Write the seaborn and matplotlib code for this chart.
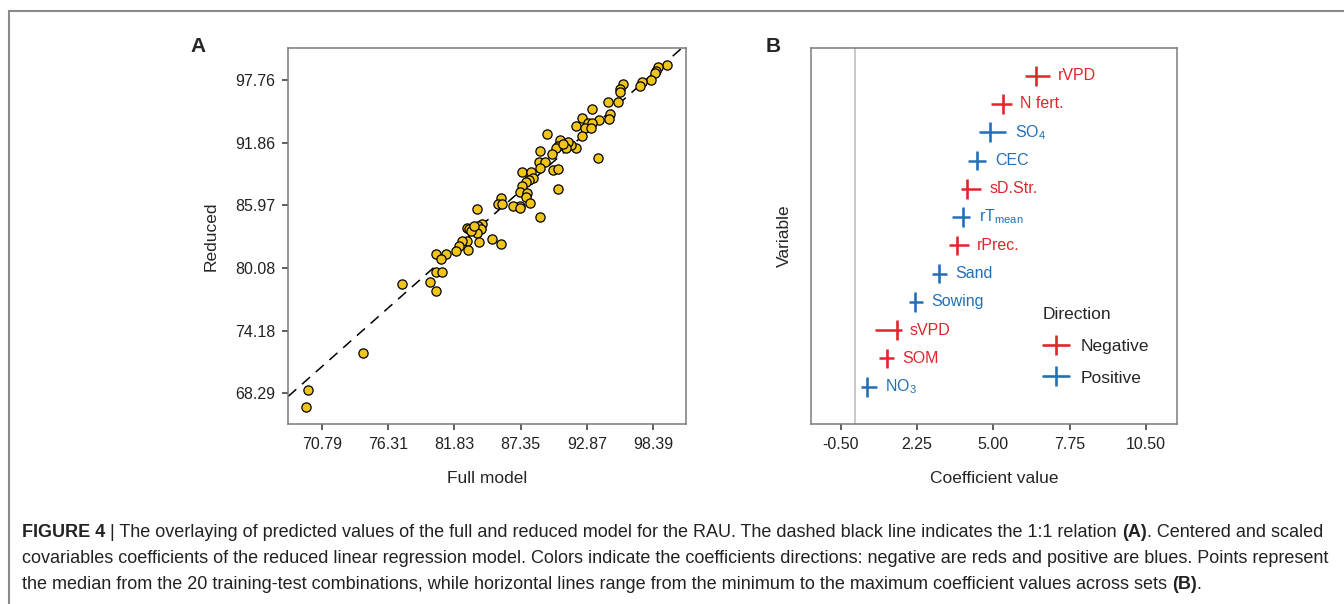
import numpy as np
import pandas as pd
import seaborn as sns
import matplotlib.pyplot as plt
from matplotlib.lines import Line2D

# panel A: predicted values, full vs reduced model
full_model = [99.57, 98.82, 98.63, 98.54, 98.21, 97.46, 97.29, 95.85, 95.63, 95.63,
              95.49, 94.60, 94.79, 94.74, 93.85, 93.30, 92.46, 92.94, 93.32, 91.94,
              92.71, 93.19, 92.49, 93.82, 91.94, 91.52, 91.32, 91.13, 90.63, 90.47,
              90.30, 89.97, 89.58, 88.97, 88.86, 89.41, 88.97, 90.08, 90.44, 90.44,
              88.97, 87.44, 88.22, 88.41, 88.08, 87.78, 87.44, 87.30, 87.86, 87.78,
              88.13, 87.30, 86.74, 87.30, 85.72, 85.44, 85.83, 83.75, 84.11, 83.78,
              82.86, 83.03, 83.36, 84.05, 83.70, 83.20, 85.00, 85.69, 83.91, 82.86,
              82.45, 82.25, 83.00, 81.95, 81.11, 80.31, 80.72, 80.31, 80.78, 79.81,
              80.31, 77.50, 74.23, 69.62, 69.48, 83.50, 90.90]
reduced = [99.17, 99.01, 98.63, 98.39, 97.76, 97.60, 97.23, 97.41, 96.91, 96.66,
           95.72, 95.72, 94.53, 94.07, 94.00, 95.00, 94.16, 93.69, 93.69, 93.44,
           93.22, 93.22, 92.50, 90.46, 91.34, 91.65, 91.96, 91.34, 92.12, 91.56,
           91.40, 90.80, 92.68, 91.12, 90.01, 90.01, 89.46, 89.30, 89.40, 87.49,
           84.88, 89.09, 89.09, 88.52, 88.36, 88.20, 87.83, 87.20, 87.17, 86.74,
           86.23, 85.92, 85.92, 85.76, 86.70, 86.11, 86.08, 85.67, 84.23, 83.98,
           83.82, 83.73, 83.63, 83.73, 83.41, 83.57, 82.82, 82.32, 82.56, 82.63,
           82.63, 82.19, 81.78, 81.66, 81.38, 81.41, 80.91, 79.69, 79.72, 78.75,
           77.87, 78.59, 72.04, 68.62, 66.99, 84.00, 91.70]
x_ticks_a = [70.79, 76.31, 81.83, 87.35, 92.87, 98.39]
y_ticks_a = [68.29, 74.18, 80.08, 85.97, 91.86, 97.76]

# panel B: coefficients (median, min, max)
variables = ['rVPD', 'N fert.', 'SO$_4$', 'CEC', 'sD.Str.', 'rT$_{mean}$',
             'rPrec.', 'Sand', 'Sowing', 'sVPD', 'SOM', 'NO$_3$']
direction = ['Negative', 'Negative', 'Positive', 'Positive', 'Negative', 'Positive',
             'Negative', 'Positive', 'Positive', 'Negative', 'Negative', 'Positive']
coef_median = [6.53, 5.33, 4.87, 4.41, 4.03, 3.91, 3.67, 3.04, 2.17, 1.53, 1.15, 0.45]
coef_min = [6.13, 4.91, 4.48, 4.09, 3.82, 3.52, 3.40, 2.79, 1.95, 0.73, 0.87, 0.22]
coef_max = [7.03, 5.66, 5.47, 4.75, 4.55, 4.17, 4.11, 3.33, 2.47, 1.69, 1.41, 0.79]
x_ticks_b = [-0.50, 2.25, 5.00, 7.75, 10.50]

colors = {'Negative': '#E0262C', 'Positive': '#2370B6'}
gold = '#F0C419'

sns.set_style('white')
plt.rcParams['font.family'] = ['Liberation Sans', 'DejaVu Sans']
plt.rcParams['mathtext.default'] = 'regular'

fig = plt.figure(figsize=(13.44, 6.04), dpi=100)
ax_a = fig.add_axes([0.2143, 0.2980, 0.2961, 0.6225])
ax_b = fig.add_axes([0.6034, 0.2980, 0.2723, 0.6225])

spine_col = '#7a7a7a'
tick_col = '#333333'

# ---- panel A
df_a = pd.DataFrame({'full': full_model, 'reduced': reduced})
ax_a.plot([60, 110], [60, 110], color='black', lw=1.1, ls=(0, (7, 5)), zorder=1)
sns.scatterplot(data=df_a, x='full', y='reduced', color=gold, edgecolor='black',
                linewidth=0.9, s=44, ax=ax_a, zorder=3)
ax_a.set_xlim(67.98, 101.11)
ax_a.set_ylim(65.4, 100.77)
ax_a.set_xticks(x_ticks_a)
ax_a.set_yticks(y_ticks_a)
ax_a.set_xticklabels([f'{v:.2f}' for v in x_ticks_a])
ax_a.set_yticklabels([f'{v:.2f}' for v in y_ticks_a])
ax_a.set_xlabel('Full model', fontsize=12.5, labelpad=14)
ax_a.set_ylabel('Reduced', fontsize=12.5, labelpad=12)

# ---- panel B
pos = np.arange(len(variables))
df_b = pd.DataFrame({'pos': pos, 'median': coef_median, 'lo': coef_min,
                     'hi': coef_max, 'Direction': direction})
ax_b.axvline(0, color='#bdbdbd', lw=1.2, zorder=0)
ax_b.hlines(df_b['pos'], df_b['lo'], df_b['hi'],
            colors=[colors[d] for d in direction], lw=1.8)
sns.scatterplot(data=df_b, x='median', y='pos', hue='Direction', palette=colors,
                marker='|', s=200, linewidth=1.9, legend=False, ax=ax_b)
for p, hi, lab, d in zip(pos, coef_max, variables, direction):
    ax_b.annotate(lab, xy=(hi, p), xytext=(6, 0), textcoords='offset points',
                  va='center', ha='left', color=colors[d], fontsize=11.5)
ax_b.set_xlim(-1.58, 11.62)
ax_b.set_ylim(12.32, -0.98)
ax_b.set_xticks(x_ticks_b)
ax_b.set_xticklabels([f'{v:.2f}' for v in x_ticks_b])
ax_b.set_yticks([])
ax_b.set_xlabel('Coefficient value', fontsize=12.5, labelpad=14)
ax_b.set_ylabel('Variable', fontsize=12.5, labelpad=14)

handles = [Line2D([0], [0], color=colors[k], lw=1.9, marker='|', markersize=14,
                  markeredgewidth=1.9) for k in ['Negative', 'Positive']]
leg = ax_b.legend(handles, ['Negative', 'Positive'], title='Direction', frameon=False,
                  loc='upper left', bbox_to_anchor=(0.59, 0.352), fontsize=12.5,
                  title_fontsize=12.5, handlelength=1.5, labelspacing=0.95,
                  handletextpad=0.7)
leg._legend_box.align = 'left'

for ax in (ax_a, ax_b):
    for s in ax.spines.values():
        s.set_color(spine_col)
        s.set_linewidth(1.1)
    ax.tick_params(axis='both', length=4, width=1.1, color=tick_col, labelcolor='#222222',
                   labelsize=11.5, pad=5, direction='out', bottom=True, left=True)

fig.text(198 / 1344, 1 - 46 / 604, 'A', fontsize=15, weight='bold', ha='center', va='center')
fig.text(773 / 1344, 1 - 46 / 604, 'B', fontsize=15, weight='bold', ha='center', va='center')

# outer frame (top and left only)
fig.add_artist(Line2D([9 / 1344, 1], [1 - 11 / 604, 1 - 11 / 604], transform=fig.transFigure,
                      color='#8a8a8a', lw=1.5))
fig.add_artist(Line2D([9 / 1344, 9 / 1344], [0, 1 - 11 / 604], transform=fig.transFigure,
                      color='#8a8a8a', lw=1.5))

# caption
cap_font = ['Liberation Sans Narrow', 'Liberation Sans', 'DejaVu Sans']
cap_size = 13
cap_lines = [
    [('FIGURE 4', 'bold'), (' | The overlaying of predicted values of the full and reduced model for the RAU. '
                            'The dashed black line indicates the 1:1 relation ', 'normal'),
     ('(A)', 'bold'), ('. Centered and scaled', 'normal')],
    [('covariables coefficients of the reduced linear regression model. Colors indicate the coefficients '
      'directions: negative are reds and positive are blues. Points represent', 'normal')],
    [('the median from the 20 training-test combinations, while horizontal lines range from the minimum '
      'to the maximum coefficient values across sets ', 'normal'), ('(B)', 'bold'), ('.', 'normal')],
]
cap_y = [1 - 537 / 604, 1 - 563 / 604, 1 - 589 / 604]
for parts, yy in zip(cap_lines, cap_y):
    t = fig.text(22 / 1344, yy, parts[0][0], weight=parts[0][1], family=cap_font,
                 fontsize=cap_size, va='baseline', ha='left', color='#222222')
    for txt, w in parts[1:]:
        t = fig.add_artist(plt.Annotation(txt, xy=(1, 0), xycoords=t, va='bottom', ha='left',
                                          weight=w, family=cap_font, fontsize=cap_size,
                                          color='#222222'))

fig.savefig('out.png', dpi=100)
